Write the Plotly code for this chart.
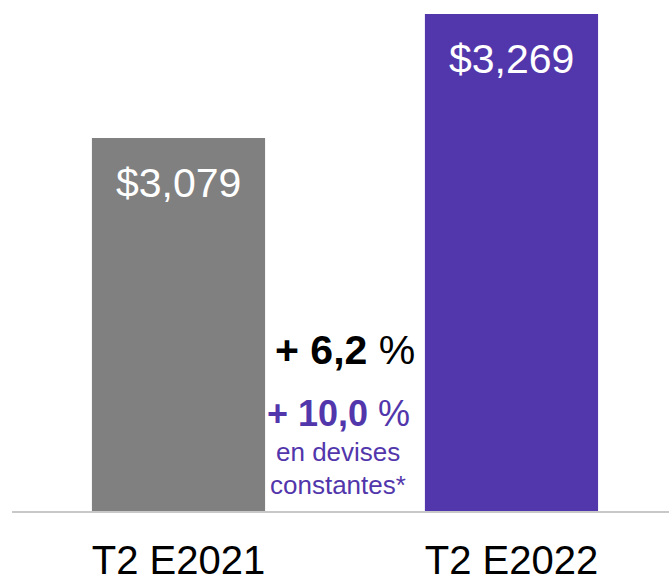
import plotly.graph_objects as go

categories = ["T2 E2021", "T2 E2022"]
values = [3079, 3269]
value_labels = ["$3,079", "$3,269"]
bar_colors = ["#808080", "#5236AB"]
growth_main = "+ 6,2"
growth_constant = "+ 10,0"
constant_note = ["en devises", "constantes*"]

FONT = "Arial, Liberation Sans, sans-serif"
PURPLE = "#5236AB"

x_idx = list(range(len(categories)))

fig = go.Figure()
fig.add_trace(go.Bar(
    x=x_idx, y=values, width=0.52,
    marker=dict(color=bar_colors, line=dict(width=0)),
    hoverinfo="skip", showlegend=False,
))

annotations = []
for xi, v, lab in zip(x_idx, values, value_labels):
    annotations.append(dict(
        x=xi, y=v, xref="x", yref="y", text=lab, showarrow=False,
        yanchor="top", yshift=-20,
        font=dict(family=FONT, size=41, color="white"),
    ))

mid = 0.5
annotations.append(dict(
    x=mid, y=1 - 350 / 511, xref="x", yref="paper",
    text=f"<b>{growth_main}</b> %", showarrow=False, yanchor="middle",
    font=dict(family=FONT, size=41, color="black"),
))
annotations.append(dict(
    x=mid, y=1 - 413 / 511, xref="x", yref="paper",
    text=f"<b>{growth_constant}</b> %", showarrow=False, yanchor="middle",
    xshift=-7,
    font=dict(family=FONT, size=36, color=PURPLE),
))
for line, py in zip(constant_note, [452, 485]):
    annotations.append(dict(
        x=mid, y=1 - py / 511, xref="x", yref="paper",
        text=line, showarrow=False, yanchor="middle", xshift=-7,
        font=dict(family=FONT, size=26, color=PURPLE),
    ))

fig.update_layout(
    width=669, height=579,
    margin=dict(l=12, r=0, t=0, b=68, autoexpand=False),
    paper_bgcolor="white", plot_bgcolor="white",
    annotations=annotations,
    xaxis=dict(
        tickmode="array", tickvals=x_idx, ticktext=categories,
        range=[-0.5, 1.473], showgrid=False, zeroline=False,
        showline=True, linecolor="#c8c8c8", linewidth=2,
        ticks="", ticklabelstandoff=13, automargin=False,
        tickfont=dict(family=FONT, size=40, color="black"),
        fixedrange=True,
    ),
    yaxis=dict(
        range=[2507.5, 3290.45], visible=False, showgrid=False,
        zeroline=False, fixedrange=True, automargin=False,
    ),
)

fig.write_html(
    "out.html",
    config={"displayModeBar": False},
    post_script="document.body.style.margin='0';document.body.style.overflow='hidden';",
)
